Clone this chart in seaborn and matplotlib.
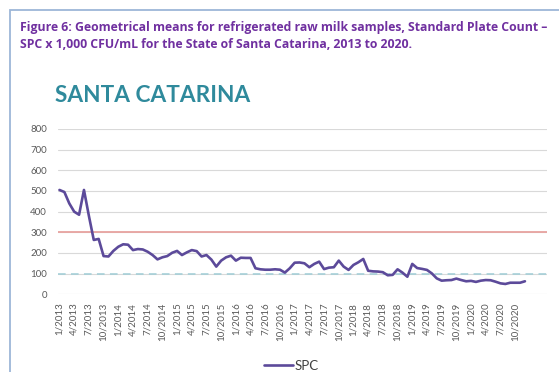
import matplotlib
matplotlib.use("Agg")
import matplotlib.pyplot as plt
import matplotlib.patches as mpatches
import numpy as np
import pandas as pd
import seaborn as sns

# Monthly geometric means, SPC x 1,000 CFU/mL, Jan 2013 - Dec 2020
years = [2013, 2014, 2015, 2016, 2017, 2018, 2019, 2020]
spc = [
    505, 495, 440, 400, 385, 505, 380, 263, 268, 185, 183, 210,   # 2013
    230, 242, 240, 214, 219, 217, 206, 190, 169, 179, 185, 201,   # 2014
    210, 190, 203, 214, 209, 183, 190, 168, 134, 163, 179, 187,   # 2015
    163, 177, 176, 176, 126, 121, 119, 119, 121, 119, 105, 126,   # 2016
    153, 154, 150, 131, 147, 158, 122, 129, 131, 163, 134, 118,   # 2017
    142, 155, 171, 114, 111, 110, 107, 92, 94, 121, 105, 85,      # 2018
    147, 127, 123, 118, 101, 77, 66, 68, 69, 76, 69, 63,          # 2019
    65, 60, 66, 69, 68, 61, 53, 50, 56, 56, 56, 63,               # 2020
]
upper_limit = 300
lower_ref = 100
y_ticks = [0, 100, 200, 300, 400, 500, 600, 700, 800]

months = [f"{m}/{y}" for y in years for m in range(1, 13)]
df = pd.DataFrame({"idx": np.arange(len(spc)), "month": months, "SPC": spc})

sns.set_theme(style="white")
plt.rcParams["font.family"] = ["Lato", "DejaVu Sans"]

fig = plt.figure(figsize=(5.59, 3.72), dpi=100)
fig.patch.set_facecolor("white")

# frame around the figure block
frame = mpatches.Rectangle((10 / 559, -0.2), 1.2, 1.2 - 10 / 372,
                           transform=fig.transFigure, fill=False,
                           edgecolor="#9db6d8", linewidth=1.3, clip_on=False)
fig.add_artist(frame)

title_font = dict(fontsize=8.8, fontweight="bold", color="#7030a0",
                  va="center", ha="left", family=["Open Sans", "DejaVu Sans"])
fig.text(20 / 559, 1 - 28 / 372,
         "Figure 6: Geometrical means for refrigerated raw milk samples, Standard Plate Count \u2013",
         **title_font)
fig.text(20 / 559, 1 - 44 / 372,
         "SPC x 1,000 CFU/mL for the State of Santa Catarina, 2013 to 2020.",
         **title_font)
fig.text(55 / 559, 1 - 95 / 372, "SANTA CATARINA",
         fontsize=16.3, fontweight="bold", color="#2f8a9c", va="center", ha="left")

ax = fig.add_axes([58 / 559, (372 - 294.3) / 372, (547 - 58) / 559, 165.3 / 372])
ax.set_facecolor("white")

for v in y_ticks:
    ax.axhline(v, color="#d9d9d9", linewidth=0.8, zorder=0)
ax.axhline(upper_limit, color="#e8a3a0", linewidth=1.3, zorder=1)
ax.axhline(lower_ref, color="#9fcdd6", linewidth=1.1, linestyle=(0, (5, 3.5)), zorder=1)

sns.lineplot(data=df, x="idx", y="SPC", ax=ax, color="#5c4a9a",
             linewidth=1.9, label="SPC", zorder=3)

ax.set_ylim(0, 800)
ax.set_xlim(-0.3, 99.5)
ax.set_yticks(y_ticks)
ax.set_yticklabels([str(v) for v in y_ticks])
tick_idx = list(range(0, len(spc), 3))
ax.set_xticks(tick_idx)
ax.set_xticklabels([months[i] for i in tick_idx], rotation=90)
ax.tick_params(axis="both", length=0, labelsize=7, labelcolor="#595959")
ax.tick_params(axis="y", pad=8)
ax.tick_params(axis="x", pad=6)
ax.set_xlabel("")
ax.set_ylabel("")
for s in ax.spines.values():
    s.set_visible(False)

leg = ax.legend(loc="center", bbox_to_anchor=(291 / 559, 1 - 366 / 372),
                bbox_transform=fig.transFigure, frameon=False, fontsize=9.5,
                handlelength=2.2, handletextpad=0.1)
for t in leg.get_texts():
    t.set_color("#404040")

fig.savefig("out.png", dpi=100, facecolor="white")
